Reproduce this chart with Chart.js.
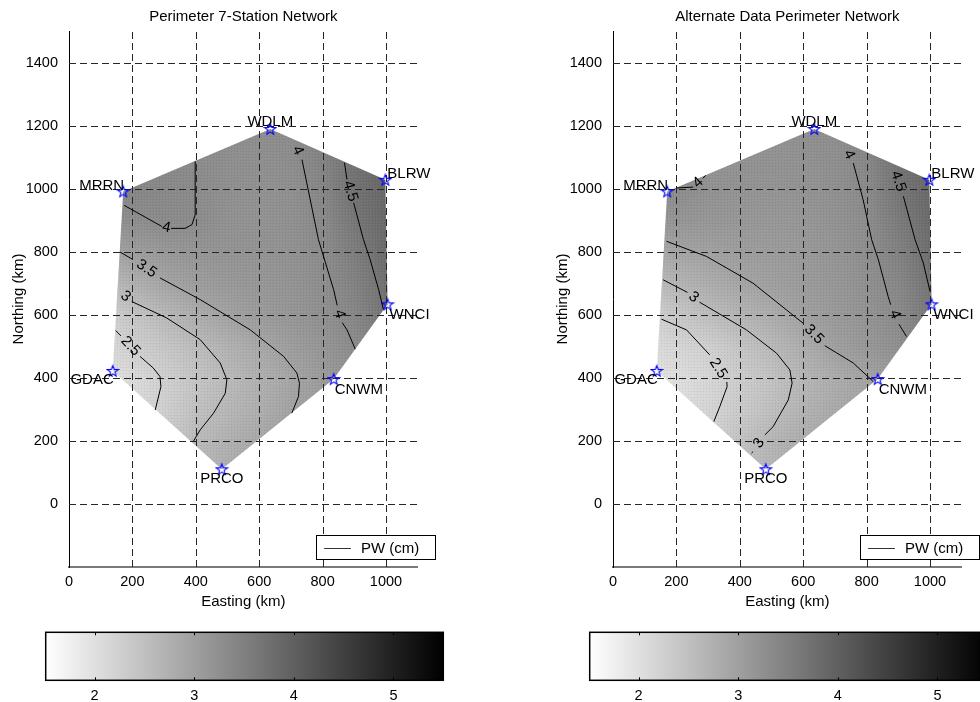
<!DOCTYPE html>
<html><head><meta charset="utf-8">
<script src="https://cdn.jsdelivr.net/npm/chart.js@4.4.0/dist/chart.umd.min.js"></script>
<style>
html,body{margin:0;padding:0;background:#fff;width:980px;height:702px;overflow:hidden;}
.panel{position:absolute;top:0;width:490px;height:702px;}
.panel canvas{position:absolute;left:0;}
</style></head><body>
<div class="panel" style="left:0px">
  <canvas id="mainL" width="490" height="620" style="top:0px"></canvas>
  <canvas id="cbL" width="490" height="82" style="top:620px"></canvas>
</div>
<div class="panel" style="left:544px">
  <canvas id="mainR" width="490" height="620" style="top:0px"></canvas>
  <canvas id="cbR" width="490" height="82" style="top:620px"></canvas>
</div>
<script>
// ---------------- DATA ----------------
const stationNames = ['MRRN','WDLM','BLRW','WNCI','CNWM','PRCO','GDAC'];
const stationEast  = [171, 635, 998, 1005, 835, 482, 138];
const stationNorth = [991, 1189, 1028, 633, 396, 110, 422];

const xTicks = [0, 200, 400, 600, 800, 1000];
const yTicks = [0, 200, 400, 600, 800, 1000, 1200, 1400];
const cbTicks = [2, 3, 4, 5];
const CB_MIN = 1.51, CB_MAX = 5.5;

// PW field (cm) read on a 100 km grid; rows = northing 1200..100, cols = easting 100..1100
const gridEast  = [100, 200, 300, 400, 500, 600, 700, 800, 900, 1000, 1100];
const gridNorth = [1200, 1100, 1000, 900, 800, 700, 600, 500, 400, 300, 200, 100];
const pwGridLeft = [
  [4.10, 4.10, 4.05, 3.98, 3.95, 3.95, 3.98, 4.20, 4.50, 4.70, 4.80],
  [4.15, 4.12, 4.06, 4.00, 3.93, 3.92, 3.96, 4.20, 4.55, 4.75, 4.85],
  [4.15, 4.12, 4.06, 4.00, 3.90, 3.88, 3.90, 4.12, 4.55, 4.80, 4.90],
  [3.90, 3.95, 4.01, 3.98, 3.88, 3.85, 3.90, 4.05, 4.45, 4.75, 4.90],
  [3.40, 3.60, 3.72, 3.80, 3.82, 3.82, 3.88, 4.00, 4.30, 4.70, 4.90],
  [2.90, 3.20, 3.46, 3.62, 3.72, 3.76, 3.82, 3.95, 4.20, 4.60, 4.80],
  [2.45, 2.75, 3.02, 3.28, 3.52, 3.66, 3.78, 3.90, 4.10, 4.50, 4.70],
  [2.30, 2.52, 2.75, 2.96, 3.18, 3.40, 3.62, 3.80, 4.00, 4.30, 4.50],
  [2.15, 2.30, 2.52, 2.76, 3.00, 3.22, 3.45, 3.65, 3.85, 4.10, 4.30],
  [2.10, 2.30, 2.55, 2.85, 3.08, 3.27, 3.49, 3.68, 3.85, 4.00, 4.20],
  [2.20, 2.45, 2.70, 3.00, 3.20, 3.40, 3.60, 3.75, 3.90, 4.00, 4.10],
  [2.30, 2.60, 2.85, 3.08, 3.28, 3.48, 3.65, 3.80, 3.90, 4.00, 4.10]
];
const pwGridRight = [
  [3.95, 3.95, 3.90, 3.88, 3.88, 3.90, 3.95, 4.20, 4.55, 4.75, 4.85],
  [3.95, 3.93, 3.88, 3.85, 3.85, 3.87, 3.92, 4.10, 4.55, 4.75, 4.85],
  [4.02, 3.98, 3.88, 3.83, 3.82, 3.84, 3.90, 4.05, 4.48, 4.75, 4.85],
  [3.80, 3.80, 3.76, 3.74, 3.74, 3.77, 3.85, 3.99, 4.35, 4.70, 4.85],
  [3.35, 3.45, 3.53, 3.60, 3.65, 3.70, 3.80, 3.95, 4.22, 4.62, 4.80],
  [2.92, 3.10, 3.30, 3.45, 3.57, 3.67, 3.77, 3.90, 4.10, 4.52, 4.70],
  [2.45, 2.70, 2.92, 3.10, 3.30, 3.55, 3.70, 3.82, 4.02, 4.40, 4.60],
  [2.25, 2.40, 2.53, 2.78, 3.03, 3.30, 3.58, 3.75, 3.92, 4.20, 4.40],
  [2.10, 2.22, 2.38, 2.60, 2.83, 3.08, 3.30, 3.48, 3.65, 3.85, 4.00],
  [2.05, 2.20, 2.42, 2.66, 2.90, 3.15, 3.35, 3.50, 3.65, 3.80, 3.90],
  [2.10, 2.30, 2.50, 2.82, 3.10, 3.30, 3.45, 3.60, 3.70, 3.80, 3.90],
  [2.20, 2.40, 2.62, 2.90, 3.12, 3.32, 3.48, 3.60, 3.70, 3.80, 3.90]
];

// Contour lines [easting, northing] in km; null = gap where the level label sits
const L_c25 = [[147,550],[164,533],null,[224,468],[266,431],[287,404],[290,372],[272,298]];
const L_c30 = [[159,674],null,[198,642],[308,590],[414,521],[477,447],[498,394],[493,351],[456,288],[414,235],[392,198]];
const L_c35 = [[161,799],[202,775],null,[287,717],[414,648],[572,552],[677,468],[719,415],[727,383],[724,341],[703,288]];
const L_c40a = [[174,947],[293,880],null,[322,874],[366,874],[388,886],[398,917],[398,1087]];
const L_c40b = [[708,1150],null,[735,1092],[787,838],[835,679],[846,630],null,[862,575],[877,552],[903,491]];
const L_c45 = [[869,1082],[877,1029],null,[898,955],[929,838],[950,775],[977,679],[992,616]];

const R_c25 = [[153,586],[232,552],[305,473],null,[359,387],[360,372],[337,309],[318,261]];
const R_c30 = [[158,711],[235,671],null,[273,640],[295,627],[421,552],[516,478],[558,425],[565,383],[553,330],[505,245],[479,219],null,[442,166],[437,161]];
const R_c35 = [[169,833],[295,785],[442,700],[600,573],null,[668,502],[758,447],[821,388]];
const R_c40a = [[200,1002],[253,1005],null,[284,1033],[292,1042]];
const R_c40b = [[732,1134],null,[758,1081],[789,965],[816,838],[837,775],[868,658],[876,632],null,[902,570],[926,531]];
const R_c45 = [[884,1071],null,[916,976],[953,838],[979,764],[1000,674]];

const leftContours = [
  {level: 2.5, pts: L_c25}, {level: 3, pts: L_c30}, {level: 3.5, pts: L_c35},
  {level: 4, pts: L_c40a}, {level: 4, pts: L_c40b}, {level: 4.5, pts: L_c45}
];
const rightContours = [
  {level: 2.5, pts: R_c25}, {level: 3, pts: R_c30}, {level: 3.5, pts: R_c35},
  {level: 4, pts: R_c40a}, {level: 4, pts: R_c40b}, {level: 4.5, pts: R_c45}
];

// ---------------- STYLE ----------------
const FONT = "'Liberation Sans', Arial, Helvetica, sans-serif";
Chart.defaults.font.family = FONT;
Chart.defaults.color = '#000';
const stationLabelStyle = {
  MRRN: {align: 'right',  dx: 1,  dy: -6},
  WDLM: {align: 'center', dx: 0,  dy: -7},
  BLRW: {align: 'left',   dx: 2,  dy: -6},
  WNCI: {align: 'left',   dx: 2,  dy: 10},
  CNWM: {align: 'left',   dx: 1,  dy: 11},
  PRCO: {align: 'center', dx: 0,  dy: 10},
  GDAC: {align: 'right',  dx: 1,  dy: 9}
};

function grayOf(v) {
  let t = (CB_MAX - v) / (CB_MAX - CB_MIN);
  t = Math.max(0, Math.min(1, t));
  return Math.round(255 * t);
}

function starImage() {
  const c = document.createElement('canvas');
  c.width = 14; c.height = 14;
  const g = c.getContext('2d');
  g.strokeStyle = '#0000ff'; g.lineWidth = 1.1;
  g.beginPath();
  for (let i = 0; i < 10; i++) {
    const r = (i % 2) ? 2.4 : 5.8;
    const a = -Math.PI / 2 + i * Math.PI / 5;
    const x = 7 + r * Math.cos(a), y = 7.4 + r * Math.sin(a);
    if (i) g.lineTo(x, y); else g.moveTo(x, y);
  }
  g.closePath(); g.stroke();
  return c;
}
const STAR = starImage();
const plainTick = v => String(v);

const fieldPlugin = {
  id: 'field',
  beforeDatasetsDraw(chart) {
    const grid = chart.options.plugins.field.grid;
    const {ctx, chartArea: a, scales: {x, y}} = chart;
    const nx = gridEast.length, ny = gridNorth.length;
    const off = document.createElement('canvas');
    off.width = nx; off.height = ny;
    const oc = off.getContext('2d');
    const img = oc.createImageData(nx, ny);
    for (let j = 0; j < ny; j++) for (let i = 0; i < nx; i++) {
      const g = grayOf(grid[j][i]); const k = 4 * (j * nx + i);
      img.data[k] = g; img.data[k + 1] = g; img.data[k + 2] = g; img.data[k + 3] = 255;
    }
    oc.putImageData(img, 0, 0);
    const dx = gridEast[1] - gridEast[0], dy = gridNorth[0] - gridNorth[1];
    const x0 = x.getPixelForValue(gridEast[0] - dx / 2), x1 = x.getPixelForValue(gridEast[nx - 1] + dx / 2);
    const y0 = y.getPixelForValue(gridNorth[0] + dy / 2), y1 = y.getPixelForValue(gridNorth[ny - 1] - dy / 2);
    ctx.save();
    ctx.beginPath();
    stationEast.forEach((e, k) => {
      const px = x.getPixelForValue(e), py = y.getPixelForValue(stationNorth[k]);
      if (k) ctx.lineTo(px, py); else ctx.moveTo(px, py);
    });
    ctx.closePath();
    ctx.clip();
    ctx.imageSmoothingEnabled = true;
    ctx.globalAlpha = 0.72;
    ctx.drawImage(off, x0, y0, x1 - x0, y1 - y0);
    ctx.globalAlpha = 1;
    ctx.fillStyle = 'rgba(0,0,0,0.08)';
    for (let px = Math.floor(x0); px < x1; px += 3)
      for (let py = Math.floor(y0); py < y1; py += 3) ctx.fillRect(px, py, 1, 1);
    ctx.fillStyle = 'rgba(255,255,255,0.06)';
    for (let px = Math.floor(x0) + 1; px < x1; px += 3)
      for (let py = Math.floor(y0) + 1; py < y1; py += 3) ctx.fillRect(px, py, 1, 1);
    ctx.restore();
    // dashed grid on top of the field
    ctx.save();
    ctx.strokeStyle = '#262626'; ctx.lineWidth = 1; ctx.setLineDash([7, 4]);
    xTicks.forEach(v => {
      if (v === x.min) return;
      const p = Math.round(x.getPixelForValue(v)) + 0.5;
      ctx.beginPath(); ctx.moveTo(p, a.bottom); ctx.lineTo(p, a.top); ctx.stroke();
    });
    yTicks.forEach(v => {
      const p = Math.round(y.getPixelForValue(v)) + 0.5;
      ctx.beginPath(); ctx.moveTo(a.left, p); ctx.lineTo(a.right, p); ctx.stroke();
    });
    ctx.restore();
  }
};

const overlayPlugin = {
  id: 'overlay',
  afterDatasetsDraw(chart) {
    const contours = chart.options.plugins.overlay.contours;
    const {ctx, scales: {x, y}} = chart;
    ctx.save();
    ctx.fillStyle = '#000';
    ctx.font = '15px ' + FONT;
    ctx.textAlign = 'center'; ctx.textBaseline = 'middle';
    contours.forEach(c => {
      const pts = c.pts;
      for (let k = 1; k < pts.length - 1; k++) {
        if (pts[k] !== null) continue;
        const p0 = pts[k - 1], p1 = pts[k + 1];
        const ax = x.getPixelForValue(p0[0]), ay = y.getPixelForValue(p0[1]);
        const bx = x.getPixelForValue(p1[0]), by = y.getPixelForValue(p1[1]);
        let ang = Math.atan2(by - ay, bx - ax);
        if (ang > Math.PI / 2) ang -= Math.PI;
        if (ang < -Math.PI / 2) ang += Math.PI;
        ctx.save();
        ctx.translate((ax + bx) / 2, (ay + by) / 2);
        ctx.rotate(ang);
        ctx.fillText(String(c.level), 0, 0);
        ctx.restore();
      }
    });
    // station labels
    ctx.font = '15px ' + FONT;
    stationNames.forEach((n, k) => {
      const st = stationLabelStyle[n];
      ctx.textAlign = st.align;
      ctx.fillText(n, x.getPixelForValue(stationEast[k]) + st.dx, y.getPixelForValue(stationNorth[k]) + st.dy);
    });
    ctx.restore();
  },
  afterDraw(chart) {
    const {ctx, chartArea: a} = chart;
    const right = a.right + 16.5, left = right - 118.6;
    const bottom = a.bottom - 7.3, top = bottom - 24.4;
    ctx.save();
    ctx.fillStyle = '#fff';
    ctx.fillRect(left, top, right - left, bottom - top);
    ctx.strokeStyle = '#000'; ctx.lineWidth = 1;
    ctx.strokeRect(Math.round(left) + 0.5, Math.round(top) + 0.5, Math.round(right - left), Math.round(bottom - top));
    const cy = Math.round((top + bottom) / 2) + 0.5;
    ctx.strokeStyle = '#333';
    ctx.beginPath(); ctx.moveTo(left + 8.6, cy); ctx.lineTo(left + 35.3, cy); ctx.stroke();
    ctx.fillStyle = '#000'; ctx.font = '15px ' + FONT;
    ctx.textAlign = 'left'; ctx.textBaseline = 'middle';
    ctx.fillText('PW (cm)', left + 45.3, cy);
    ctx.restore();
  }
};

function buildMain(id, title, contours, grid) {
  const datasets = contours.map(c => ({
    data: c.pts.map((p, k) => p ? {x: p[0], y: p[1]} : {x: c.pts[k - 1][0], y: null}),
    showLine: true, borderColor: '#000', borderWidth: 1, pointRadius: 0,
    tension: 0, fill: false, spanGaps: false
  }));
  datasets.push({
    data: stationEast.map((e, k) => ({x: e, y: stationNorth[k]})),
    showLine: false, pointStyle: STAR, pointRadius: 6,
    borderColor: '#00f', backgroundColor: '#00f'
  });
  return new Chart(document.getElementById(id), {
    type: 'scatter',
    data: {datasets},
    options: {
      responsive: false, animation: false, devicePixelRatio: 1,
      events: [],
      layout: {padding: {left: 0, right: 72.3, top: 0, bottom: 8}},
      plugins: {
        legend: {display: false}, tooltip: {enabled: false},
        title: {display: true, text: title, fullSize: false, color: '#000',
                font: {family: FONT, size: 15, weight: 'normal'}, padding: {top: 8, bottom: 5}},
        field: {grid},
        overlay: {contours}
      },
      scales: {
        x: {
          type: 'linear', min: 0, max: 1100,
          afterBuildTicks: s => { s.ticks = xTicks.map(v => ({value: v})); },
          afterFit: s => { s.height = 45; },
          grid: {display: false},
          border: {display: true, color: '#7a7a7a', width: 2},
          ticks: {font: {family: FONT, size: 14.5}, color: '#000', padding: -2, callback: plainTick},
          title: {display: true, text: 'Easting (km)', color: '#000',
                  font: {family: FONT, size: 15}, padding: {top: 0, bottom: 1}}
        },
        y: {
          type: 'linear', min: -200, max: 1500,
          afterBuildTicks: s => { s.ticks = yTicks.map(v => ({value: v})); },
          afterFit: s => { s.width = 69; },
          grid: {display: false},
          border: {display: true, color: '#000', width: 1},
          ticks: {font: {family: FONT, size: 14.5}, color: '#000', padding: 3, callback: plainTick},
          title: {display: true, text: 'Northing (km)', color: '#000',
                  font: {family: FONT, size: 15}, padding: {top: 10, bottom: 0}}
        }
      }
    },
    plugins: [fieldPlugin, overlayPlugin]
  });
}

const cbPlugin = {
  id: 'cbar',
  beforeDatasetsDraw(chart) {
    const {ctx, chartArea: a, scales: {x}} = chart;
    const gx0 = x.getPixelForValue(CB_MIN), gx1 = x.getPixelForValue(CB_MAX);
    const grad = ctx.createLinearGradient(gx0, 0, gx1, 0);
    grad.addColorStop(0, 'rgb(255,255,255)');
    grad.addColorStop(1, 'rgb(0,0,0)');
    ctx.save();
    ctx.fillStyle = grad;
    ctx.fillRect(a.left, a.top, a.right - a.left, a.bottom - a.top);
    ctx.strokeStyle = '#000'; ctx.lineWidth = 1.5;
    ctx.strokeRect(a.left, a.top, a.right - a.left, a.bottom - a.top);
    ctx.lineWidth = 1;
    cbTicks.forEach(v => {
      const p = Math.round(x.getPixelForValue(v)) + 0.5;
      ctx.beginPath(); ctx.moveTo(p, a.top); ctx.lineTo(p, a.top + 3); ctx.stroke();
      ctx.beginPath(); ctx.moveTo(p, a.bottom); ctx.lineTo(p, a.bottom - 3); ctx.stroke();
    });
    ctx.restore();
  }
};

function buildCB(id) {
  return new Chart(document.getElementById(id), {
    type: 'scatter',
    data: {datasets: [{data: [], pointRadius: 0}]},
    options: {
      responsive: false, animation: false, devicePixelRatio: 1,
      events: [],
      layout: {padding: {left: 45.7, right: 46.7, top: 12.3, bottom: 1.7}},
      plugins: {legend: {display: false}, tooltip: {enabled: false}},
      scales: {
        x: {
          type: 'linear', min: CB_MIN, max: CB_MAX,
          afterBuildTicks: s => { s.ticks = cbTicks.map(v => ({value: v})); },
          afterFit: s => { s.height = 20; },
          grid: {display: false}, border: {display: false},
          ticks: {font: {family: FONT, size: 14.5}, color: '#000', padding: -1, callback: plainTick}
        },
        y: {display: false, min: 0, max: 1}
      }
    },
    plugins: [cbPlugin]
  });
}

buildMain('mainL', 'Perimeter 7-Station Network', leftContours, pwGridLeft);
buildMain('mainR', 'Alternate Data Perimeter Network', rightContours, pwGridRight);
buildCB('cbL');
buildCB('cbR');
</script>
</body></html>
